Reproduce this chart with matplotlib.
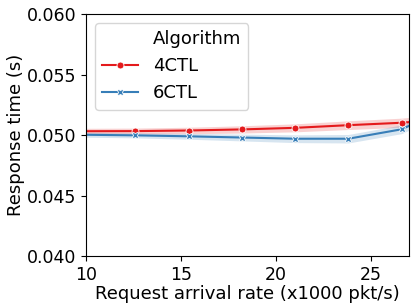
import numpy as np
import matplotlib
matplotlib.use('Agg')
import matplotlib.pyplot as plt
from matplotlib.lines import Line2D

# request arrival rate (x1000 pkt/s)
rate = [9.8, 12.6, 15.4, 18.2, 21.0, 23.8, 26.6, 29.4]
# mean response time (s)
ctl4 = [0.05032, 0.05033, 0.05038, 0.05047, 0.05060, 0.05082, 0.05102, 0.05140]
ctl6 = [0.05003, 0.04998, 0.04990, 0.04980, 0.04970, 0.04970, 0.05048, 0.05250]
# half width of the confidence band
ci4 = [0.00024, 0.00025, 0.00027, 0.00030, 0.00033, 0.00036, 0.00038, 0.00040]
ci6 = [0.00020, 0.00021, 0.00024, 0.00028, 0.00032, 0.00035, 0.00036, 0.00038]

red = '#e41a1c'
blue = '#377eb8'

fig = plt.figure(figsize=(4.15, 3.06), dpi=100)
ax = fig.add_axes([0.207, 0.163, 0.779, 0.791])

for y, ci, c, m in [(ctl4, ci4, red, 'o'), (ctl6, ci6, blue, 'X')]:
    y = np.array(y)
    ci = np.array(ci)
    ax.fill_between(rate, y - ci, y + ci, color=c, alpha=0.2, linewidth=0)
    ax.plot(rate, y, color=c, marker=m, markersize=5, markeredgecolor='white',
            markeredgewidth=0.6, linewidth=1.5)

ax.set_xlim(10, 27)
ax.set_ylim(0.040, 0.060)
ax.set_xticks([10, 15, 20, 25])
ax.set_yticks([0.040, 0.045, 0.050, 0.055, 0.060])
ax.tick_params(labelsize=12.5)
ax.set_xlabel('Request arrival rate (x1000 pkt/s)', fontsize=13, labelpad=1)
ax.set_ylabel('Response time (s)', fontsize=13, labelpad=1)

handles = [Line2D([], [], linestyle='none'),
           Line2D([], [], color=red, marker='o', markersize=5, markeredgecolor='white', markeredgewidth=0.6),
           Line2D([], [], color=blue, marker='X', markersize=5, markeredgecolor='white', markeredgewidth=0.6)]
ax.legend(handles, ['Algorithm', '4CTL', '6CTL'], loc='upper left', fontsize=13)

fig.savefig('out.png', dpi=100)
